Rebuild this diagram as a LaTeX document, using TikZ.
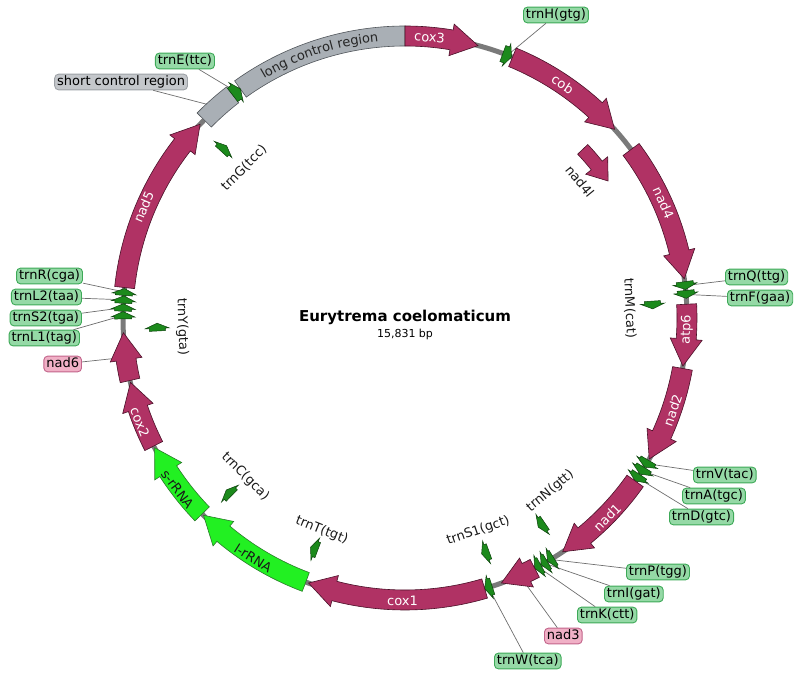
\documentclass[tikz,border=0pt]{standalone}
\usepackage{fontspec}
\setmainfont{DejaVu Sans}
\usetikzlibrary{positioning, decorations.text}

\definecolor{genefill}{HTML}{B03264}
\definecolor{geneline}{HTML}{4A1028}
\definecolor{rrnafill}{HTML}{22F022}
\definecolor{rrnaline}{HTML}{2A7A2A}
\definecolor{trnafill}{HTML}{1C8A1C}
\definecolor{trnaline}{HTML}{0C420C}
\definecolor{ctrlfill}{HTML}{A9AFB5}
\definecolor{ctrlline}{HTML}{50555A}
\definecolor{boxtfill}{HTML}{95D9A6}
\definecolor{boxtline}{HTML}{3DA957}
\definecolor{boxgfill}{HTML}{F0B0C6}
\definecolor{boxgline}{HTML}{C2648A}
\definecolor{boxcfill}{HTML}{C4C7CB}
\definecolor{boxcline}{HTML}{9DA1A6}
\definecolor{spine}{HTML}{7A7A7A}
\definecolor{leadgray}{HTML}{6E6E6E}

\newcommand{\genearrow}[7]{%
  \filldraw[#7] ({90-#1}:{#3+#4}) arc[start angle={90-#1}, end angle={90-#2+#6}, radius={#3+#4}]
    -- ({90-#2+#6}:{#3+#5}) -- ({90-#2}:{#3}) -- ({90-#2+#6}:{#3-#5})
    -- ({90-#2+#6}:{#3-#4}) arc[start angle={90-#2+#6}, end angle={90-#1}, radius={#3-#4}] -- cycle;}
\newcommand{\ctrlband}[5]{%
  \filldraw[#5] ({90-#1}:{#3+#4}) arc[start angle={90-#1}, end angle={90-#2}, radius={#3+#4}]
    -- ({90-#2}:{#3-#4}) arc[start angle={90-#2}, end angle={90-#1}, radius={#3-#4}] -- cycle;}

\begin{document}
\begin{tikzpicture}[x=1pt, y=1pt,
    every node/.style={font=\fontsize{13}{15}\selectfont},
    gene/.style={fill=genefill, draw=geneline, line width=0.6pt},
    rrna/.style={fill=rrnafill, draw=rrnaline, line width=0.6pt},
    trna/.style={fill=trnafill, draw=trnaline, line width=0.5pt},
    ctrl/.style={fill=ctrlfill, draw=ctrlline, line width=0.6pt},
    namebox/.style={draw, rounded corners=4pt, line width=0.9pt, inner xsep=2.5pt, inner ysep=1.8pt, text height=9.6pt, text depth=2.6pt},
    tbox/.style={namebox, fill=boxtfill, draw=boxtline},
    gbox/.style={namebox, fill=boxgfill, draw=boxgline},
    cbox/.style={namebox, fill=boxcfill, draw=boxcline},
    glabel/.style={text=white, inner sep=0pt},
    ilabel/.style={text=black!90, inner sep=0pt},
    leader/.style={draw=leadgray, line width=0.7pt}
]
\useasboundingbox (-405,-356) rectangle (394,318);
\draw[spine, line width=5pt] (0,0) circle[radius=282];

\coordinate (pH) at ({90-21.3}:282);
\coordinate (pE) at ({90-323.3}:282);
\coordinate (pscr) at ({90-318.4}:282);
\coordinate (pR) at ({90-275.3}:282);
\coordinate (pL2) at ({90-273.7}:282);
\coordinate (pS2) at ({90-272.1}:282);
\coordinate (pL1) at ({90-270.5}:282);
\coordinate (pnad6) at ({90-262}:282);
\coordinate (pQ) at ({90-83.4}:282);
\coordinate (pF) at ({90-85.2}:282);
\coordinate (pV) at ({90-121.1}:282);
\coordinate (pA) at ({90-122.8}:282);
\coordinate (pD) at ({90-124.5}:282);
\coordinate (pP) at ({90-148.9}:282);
\coordinate (pI) at ({90-150.4}:282);
\coordinate (pK) at ({90-151.9}:282);
\coordinate (pnad3) at ({90-156}:282);
\coordinate (pW) at ({90-162.8}:282);

\node[tbox, anchor=west] (trnH) at (118,303) {trnH(gtg)};
\node[tbox, anchor=east] (trnE) at (-190,257) {trnE(ttc)};
\node[cbox, anchor=east] (scr) at (-217,236) {short control region};
\node[tbox, anchor=east] (trnR) at (-322,42) {trnR(cga)};
\node[tbox, anchor=east] (trnL2) at (-323,21) {trnL2(taa)};
\node[tbox, anchor=east] (trnS2) at (-323,0) {trnS2(tga)};
\node[tbox, anchor=east] (trnL1) at (-325,-20) {trnL1(tag)};
\node[gbox, anchor=east] (nad6) at (-323,-46) {nad6};
\node[tbox, anchor=west] (trnQ) at (320,41) {trnQ(ttg)};
\node[tbox, anchor=west] (trnF) at (322,20) {trnF(gaa)};
\node[tbox, anchor=west] (trnV) at (288,-157) {trnV(tac)};
\node[tbox, anchor=west] (trnA) at (277,-178) {trnA(tgc)};
\node[tbox, anchor=west] (trnD) at (264,-199) {trnD(gtc)};
\node[tbox, anchor=west] (trnP) at (221,-254) {trnP(tgg)};
\node[tbox, anchor=west] (trnI) at (199,-276) {trnI(gat)};
\node[tbox, anchor=west] (trnK) at (172,-297) {trnK(ctt)};
\node[gbox, anchor=west] (nad3) at (139,-318) {nad3};
\node[tbox, anchor=west] (trnW) at (89,-343) {trnW(tca)};

\draw[leader] (trnH) -- (pH);
\draw[leader] (trnE) -- (pE);
\draw[leader] (scr) -- (pscr);
\draw[leader] (trnR) -- (pR);
\draw[leader] (trnL2) -- (pL2);
\draw[leader] (trnS2) -- (pS2);
\draw[leader] (trnL1) -- (pL1);
\draw[leader] (nad6) -- (pnad6);
\draw[leader] (trnQ) -- (pQ);
\draw[leader] (trnF) -- (pF);
\draw[leader] (trnV) -- (pV);
\draw[leader] (trnA) -- (pA);
\draw[leader] (trnD) -- (pD);
\draw[leader] (trnP) -- (pP);
\draw[leader] (trnI) -- (pI);
\draw[leader] (trnK) -- (pK);
\draw[leader] (nad3) -- (pnad3);
\draw[leader] (trnW) -- (pW);

\ctrlband{324.3}{360}{282}{10}{ctrl}
\ctrlband{314.6}{322.3}{282}{10}{ctrl}
\genearrow{322.3}{324.3}{282}{8.5}{12}{1.1}{trna}
\genearrow{0}{15}{282}{10}{16}{5.5}{gene}
\genearrow{20.3}{22.2}{282}{8.5}{12}{1.1}{trna}
\genearrow{22.4}{48}{282}{10}{16}{5.5}{gene}
\genearrow{53.3}{82}{282}{10}{16}{5.5}{gene}
\genearrow{82.6}{84.2}{282}{8.5}{12}{1.1}{trna}
\genearrow{84.4}{86}{282}{8.5}{12}{1.1}{trna}
\genearrow{87.2}{99.8}{282}{10}{16}{5.5}{gene}
\genearrow{100.3}{120}{282}{10}{16}{5.5}{gene}
\genearrow{120.3}{121.9}{282}{8.5}{12}{1.1}{trna}
\genearrow{122}{123.6}{282}{8.5}{12}{1.1}{trna}
\genearrow{123.7}{125.3}{282}{8.5}{12}{1.1}{trna}
\genearrow{125.3}{146}{282}{10}{16}{5.5}{gene}
\genearrow{148.2}{149.6}{282}{8.5}{12}{1.1}{trna}
\genearrow{149.7}{151.1}{282}{8.5}{12}{1.1}{trna}
\genearrow{151.2}{152.6}{282}{8.5}{12}{1.1}{trna}
\genearrow{152.6}{160}{282}{10}{16}{5.5}{gene}
\genearrow{162}{163.6}{282}{8.5}{12}{1.1}{trna}
\genearrow{163.6}{200}{282}{10}{16}{5.5}{gene}
\genearrow{200.6}{225.6}{282}{10}{16}{5.5}{rrna}
\genearrow{226}{242.6}{282}{10}{16}{5.5}{rrna}
\genearrow{243}{256.8}{282}{10}{16}{5.5}{gene}
\genearrow{257.2}{267}{282}{10}{16}{5.5}{gene}
\genearrow{269.8}{271.3}{282}{8.5}{12}{1.1}{trna}
\genearrow{271.4}{272.9}{282}{8.5}{12}{1.1}{trna}
\genearrow{273}{274.5}{282}{8.5}{12}{1.1}{trna}
\genearrow{274.6}{276}{282}{8.5}{12}{1.1}{trna}
\genearrow{276.2}{313.4}{282}{10}{16}{5.5}{gene}

\genearrow{312.2}{314}{248}{8}{12}{1.2}{trna}
\genearrow{46.5}{56}{245}{7}{14}{4.5}{gene}
\genearrow{86.1}{87.9}{248}{8}{12}{1.2}{trna}
\genearrow{145.7}{147.5}{248}{8}{12}{1.2}{trna}
\genearrow{160.2}{162}{248}{8}{12}{1.2}{trna}
\genearrow{200.6}{202.4}{248}{8}{12}{1.2}{trna}
\genearrow{224.3}{226.1}{248}{8}{12}{1.2}{trna}
\genearrow{267}{268.8}{248}{8}{12}{1.2}{trna}

\node[glabel, rotate=-5] (tcox3) at ({90-5}:282) {cox3};
\node[glabel, rotate=-34] (tcob) at ({90-34}:282) {cob};
\node[glabel, rotate=-66] (tnad4) at ({90-66}:283) {nad4};
\node[glabel, rotate=88] (tatp6) at ({90-92.4}:282) {atp6};
\node[glabel, rotate=71] (tnad2) at ({90-109}:283) {nad2};
\node[glabel, rotate=45] (tnad1) at ({90-134.6}:284) {nad1};
\node[glabel, rotate=-0.5] (tcox1) at ({90-180.5}:283) {cox1};
\node[ilabel, rotate=-32] (tlrrna) at ({90-212.3}:284) {l-rRNA};
\node[ilabel, rotate=-53] (tsrrna) at ({90-233}:285) {s-rRNA};
\node[glabel, rotate=-68.5] (tcox2) at ({90-248.5}:285) {cox2};
\node[glabel, rotate=67] (tnad5) at ({90-293}:284) {nad5};
\path[decorate, decoration={text along path, text align=center, raise=-4.5pt, text color=black!85,
    text={|\fontsize{13}{15}\selectfont|long control region}}]
  ({90-325}:282) arc[start angle={90-325}, end angle={90-359}, radius=282];

\node[ilabel, rotate=45] (ltrnG) at ({90-313}:220) {trnG(tcc)};
\node[ilabel, rotate=-51] (lnad4l) at ({90-52}:222) {nad4l};
\node[ilabel, rotate=-87.5] (ltrnM) at ({90-87.5}:225) {trnM(cat)};
\node[ilabel, rotate=40] (ltrnN) at ({90-140}:226) {trnN(gtt)};
\node[ilabel, rotate=19] (ltrnS1) at ({90-161}:225) {trnS1(gct)};
\node[ilabel, rotate=-22] (ltrnT) at ({90-201.4}:228) {trnT(tgt)};
\node[ilabel, rotate=-45] (ltrnC) at ({90-225.2}:225) {trnC(gca)};
\node[ilabel, rotate=-88] (ltrnY) at ({90-267.7}:223) {trnY(gta)};

\node[inner sep=1pt, font=\fontsize{15}{18}\selectfont\bfseries] (title) at (0,1) {Eurytrema coelomaticum};
\node[inner sep=1pt, font=\fontsize{11}{13}\selectfont, below=2pt of title] (size) {15,831 bp};
\end{tikzpicture}
\end{document}
